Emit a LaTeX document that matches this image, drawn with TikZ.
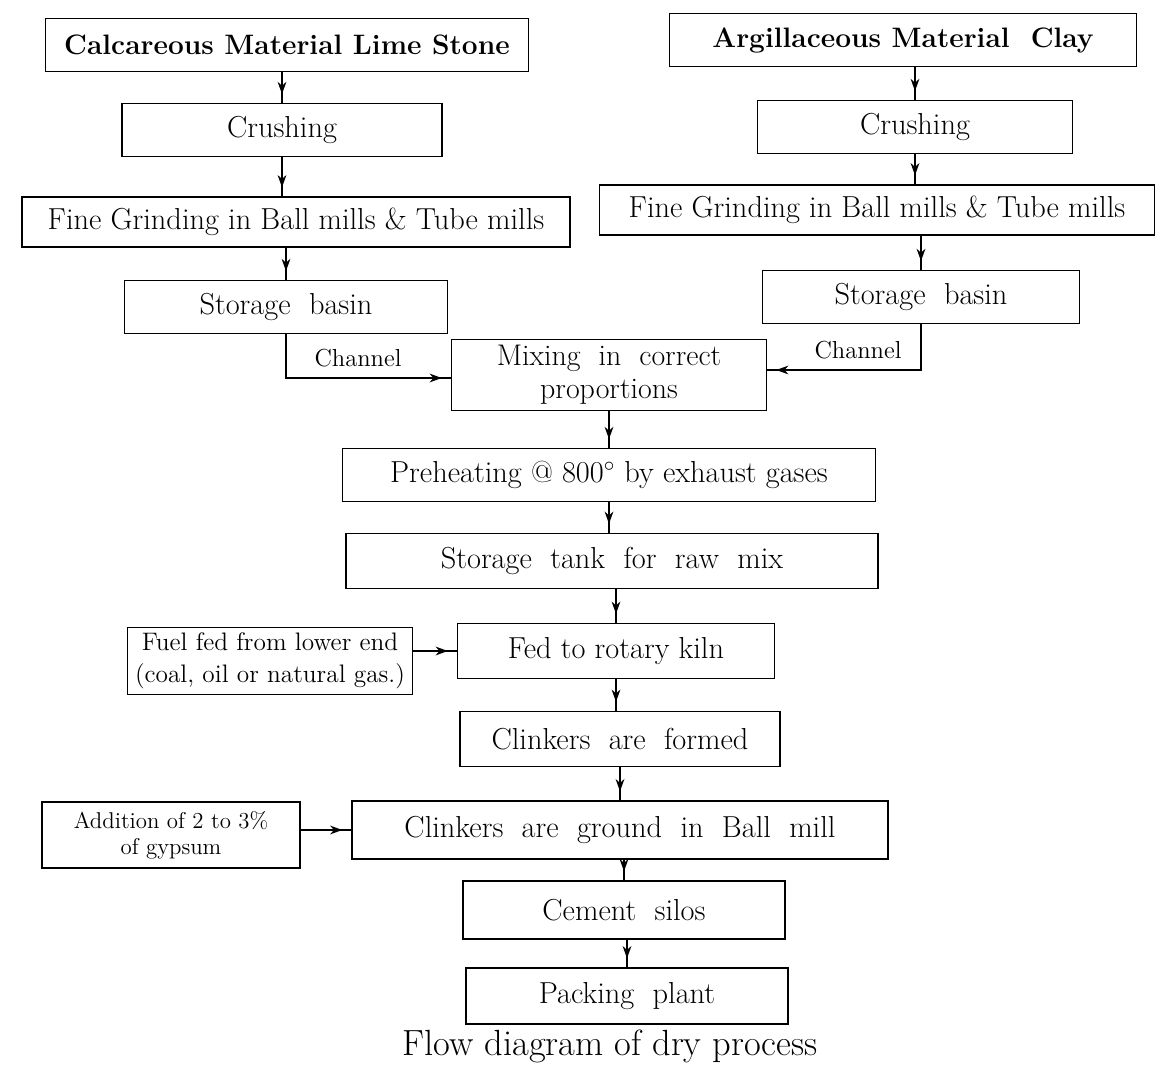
\documentclass[tikz,border=0pt]{standalone}
\usepackage{xcolor}
\usepackage{tikz}
\usetikzlibrary{arrows.meta, positioning, calc, decorations.markings}

\begin{document}
\begin{tikzpicture}[
    x=0.02cm, y=-0.02cm,
    stage/.style={draw, line width=0.8pt, minimum width=6.4cm, minimum height=1.05cm, inner xsep=2pt, font=\LARGE, align=center},
    source/.style={stage, font=\fontsize{16}{19}\selectfont\bfseries},
    wide/.style={stage, minimum width=10.7cm},
    side/.style={draw, line width=0.8pt, minimum height=1.35cm, inner xsep=3pt, font=\Large, align=center},
    flow/.style={line width=0.8pt, decoration={markings, mark=at position -0.18cm with {\arrow{Stealth[length=7pt,width=5pt]}}}, postaction={decorate}},
    note/.style={font=\fontsize{14}{16}\selectfont}
]
    \useasboundingbox (0,0) rectangle (1160,1074);

    % Raw materials
    \node[source, minimum width=9.66cm] (calc) at (287, 45) {Calcareous Material Lime Stone};
    \node[source, minimum width=9.34cm] (argil) at (903, 40) {Argillaceous Material \ Clay};

    % Left column
    \node[stage] (crushL) at (282, 130) {Crushing};
    \node[stage, minimum width=10.96cm, minimum height=1.0cm] (grindL) at (296, 222) {Fine Grinding in Ball mills \& Tube mills};
    \node[stage, minimum width=6.46cm] (storL) at (286, 307) {Storage \ basin};

    % Right column
    \node[stage, minimum width=6.3cm] (crushR) at (915, 127) {Crushing};
    \node[stage, minimum width=11.1cm, minimum height=1.0cm] (grindR) at (877, 210) {Fine Grinding in Ball mills \& Tube mills};
    \node[stage, minimum width=6.34cm] (storR) at (921, 297) {Storage \ basin};

    % Main line
    \node[stage, minimum width=6.3cm, minimum height=1.4cm, font=\fontsize{17}{19}\selectfont] (mix) at (609, 375) {Mixing \ in \ correct\\proportions};
    \node[wide, minimum width=10.66cm] (preheat) at (609, 475) {Preheating @ 800$^{\circ}$ by exhaust gases};
    \node[wide, minimum width=10.64cm, minimum height=1.1cm] (tank) at (612, 561) {Storage \ tank \ for \ raw \ mix};
    \node[stage, minimum width=6.34cm, minimum height=1.1cm] (kiln) at (616, 651) {Fed to rotary kiln};
    \node[stage, minimum height=1.1cm] (formed) at (620, 739) {Clinkers \ are \ formed};
    \node[wide, minimum width=10.72cm, minimum height=1.16cm] (ground) at (620, 830) {Clinkers \ are \ ground \ in \ Ball \ mill};
    \node[stage, minimum width=6.44cm, minimum height=1.16cm] (silos) at (624, 910) {Cement \ silos};
    \node[stage, minimum width=6.44cm, minimum height=1.12cm] (pack) at (627, 996) {Packing \ plant};

    % Side inputs
    \node[side, minimum width=5.7cm] (fuel) at (270, 661) {Fuel fed from lower end\\(coal, oil or natural gas.)};
    \node[side, minimum width=5.16cm, minimum height=1.32cm, font=\fontsize{13}{15}\selectfont] (gyp) at (171, 835) {Addition of 2 to 3\%\\of gypsum};

    % Connections
    \draw[flow] (crushL.north |- calc.south) -- (crushL.north);
    \draw[flow] (crushL.south) -- (crushL.south |- grindL.north);
    \draw[flow] (grindL.south -| storL.north) -- (storL.north);

    \draw[flow] (crushR.north |- argil.south) -- (crushR.north);
    \draw[flow] (crushR.south) -- (crushR.south |- grindR.north);
    \draw[flow] (grindR.south -| storR.north) -- (storR.north);

    \draw[flow] (storL.south) |- ($(mix.west)+(0,3)$);
    \draw[flow] (storR.south) |- ($(mix.east)+(0,-5)$);
    \node[note] (chanL) at (358, 358) {Channel};
    \node[note] (chanR) at (858, 350) {Channel};

    \draw[flow] (mix.south) -- (mix.south |- preheat.north);
    \draw[flow] (preheat.south) -- (preheat.south |- tank.north);
    \draw[flow] (tank.south -| kiln.north) -- (kiln.north);
    \draw[flow] (kiln.south) -- (kiln.south |- formed.north);
    \draw[flow] (formed.south) -- (formed.south |- ground.north);
    \draw[flow] (ground.south -| silos.north) -- (silos.north);
    \draw[flow] (silos.south -| pack.north) -- (pack.north);

    \draw[flow] (fuel.east |- kiln.west) -- (kiln.west);
    \draw[flow] (gyp.east |- ground.west) -- (ground.west);

    % Caption
    \node[font=\huge] (caption) at (610, 1046) {Flow diagram of dry process};

\end{tikzpicture}
\end{document}
